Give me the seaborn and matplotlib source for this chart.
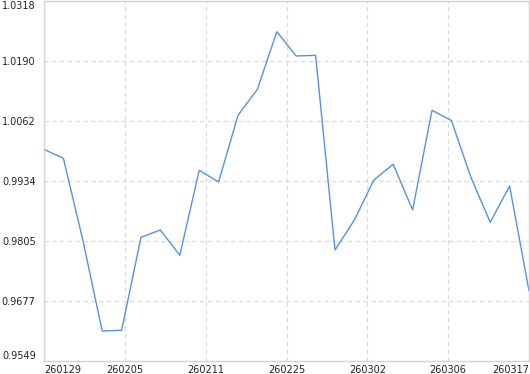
import numpy as np
import pandas as pd
import matplotlib
matplotlib.use("Agg")
import matplotlib.pyplot as plt
import seaborn as sns

values = [1.00012, 0.99820, 0.98075, 0.96131, 0.96146, 0.98132, 0.98288, 0.97748,
          0.99564, 0.99314, 1.00738, 1.01294, 1.02524, 1.02005, 1.02020, 0.97861,
          0.98502, 0.99356, 0.99692, 0.98716, 1.00845, 1.00627, 0.99420, 0.98453,
          0.99228, 0.96985]
y_ticks = [0.9549, 0.9677, 0.9805, 0.9934, 1.0062, 1.0190, 1.0318]
x_labels = ["260129", "260205", "260211", "260225", "260302", "260306", "260317"]

df = pd.DataFrame({"idx": np.arange(len(values)), "value": values})

sns.set_style("white")
plt.rcParams['font.family'] = ['DejaVu Sans']

fig = plt.figure(figsize=(5.30, 3.74), dpi=100)
ax = fig.add_axes([44 / 530, 13 / 374, 485 / 530, 360 / 374])

sns.lineplot(data=df, x="idx", y="value", ax=ax, color="#5592e4", linewidth=1.0)

n = len(values) - 1
ax.set_xlim(0, n)
ax.set_ylim(y_ticks[0], y_ticks[-1])
xt = np.linspace(0, n, len(x_labels))
ax.set_xticks(xt)
ax.set_xticklabels(x_labels)
ax.set_yticks(y_ticks)
ax.set_yticklabels([f"{v:.4f}" for v in y_ticks])
labs = ax.get_xticklabels()
labs[0].set_horizontalalignment("left")
labs[-1].set_horizontalalignment("right")
ylabs = ax.get_yticklabels()
ylabs[0].set_verticalalignment("bottom")
ylabs[-1].set_verticalalignment("top")

ax.set_xlabel("")
ax.set_ylabel("")
ax.tick_params(axis="both", length=0, labelsize=7, colors="#222222")
ax.tick_params(axis="y", pad=6)
ax.tick_params(axis="x", pad=3)
ax.grid(True, color="#d8d8d8", linestyle=(0, (4, 3)), linewidth=0.8)
for s in ax.spines.values():
    s.set_visible(True)
    s.set_color("#d4d4d4")
    s.set_linewidth(1.0)

fig.savefig("out.png", dpi=100, facecolor="white")
